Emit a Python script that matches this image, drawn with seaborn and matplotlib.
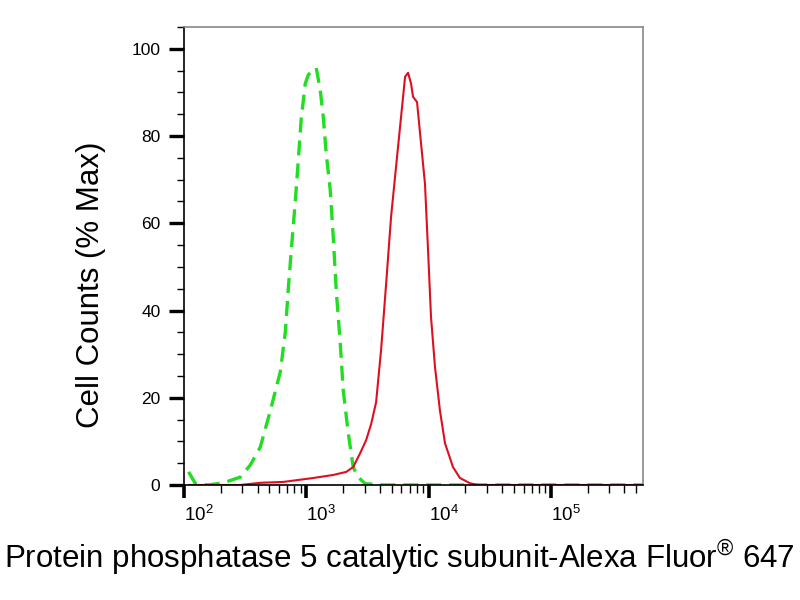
import numpy as np
import pandas as pd
import matplotlib
matplotlib.use('Agg')
import matplotlib.pyplot as plt
from matplotlib.ticker import LogLocator, MultipleLocator
import seaborn as sns

# control (isotype) histogram, % of max
ctrl_x = [109, 124, 158, 210, 289, 349, 421, 508, 614, 674, 713, 755, 813, 861, 910,
          981, 1038, 1119, 1207, 1301, 1377, 1456, 1570, 1661, 1758, 1896, 2005, 2203,
          2420, 2657, 3033, 4254, 574000]
ctrl_y = [3.0, 0.3, 0.0, 0.5, 1.8, 4.6, 8.7, 17, 26, 35, 45, 54, 65, 74.5, 84,
          92, 94, 95, 95.6, 90.6, 84.4, 76, 67.7, 57, 44.7, 32.6, 21.8, 12,
          4.1, 1.8, 0.3, 0.0, 0.0]

# stained sample histogram
samp_x = [109, 289, 421, 649, 1140, 1661, 2123, 2420, 2761, 3090, 3396, 3727, 4094,
          4497, 4940, 5427, 5962, 6431, 6805, 7196, 7471, 8054, 8522, 9357, 9903,
          10480, 11300, 12410, 13630, 15850, 18080, 21820, 25350, 574000]
samp_y = [0.0, 0.0, 0.5, 0.7, 1.6, 2.3, 3.0, 4.1, 7.3, 10.3, 14, 19, 31,
          46, 61.5, 73, 84.4, 93.6, 94.5, 92, 89, 87.8, 80.7, 69, 54,
          38.5, 27, 17, 9.6, 4.1, 1.6, 0.4, 0.0, 0.0]

x_ticks = [1e2, 1e3, 1e4, 1e5]
x_ticklabels = ['$10^{2}$', '$10^{3}$', '$10^{4}$', '$10^{5}$']

ctrl = pd.DataFrame({'intensity': ctrl_x, 'pct': ctrl_y})
samp = pd.DataFrame({'intensity': samp_x, 'pct': samp_y})

sns.set_style('ticks')
plt.rcParams['font.family'] = ['Liberation Sans', 'DejaVu Sans']
plt.rcParams['mathtext.fontset'] = 'custom'
plt.rcParams['mathtext.rm'] = 'Liberation Sans'
plt.rcParams['mathtext.it'] = 'Liberation Sans'
plt.rcParams['text.color'] = 'black'
plt.rcParams['axes.labelcolor'] = 'black'
plt.rcParams['xtick.color'] = 'black'
plt.rcParams['ytick.color'] = 'black'

fig = plt.figure(figsize=(8, 6), dpi=100)
ax = fig.add_axes([0.23, 0.1917, 0.574, 0.7633])

sns.lineplot(data=ctrl, x='intensity', y='pct', ax=ax, color='#22dd22',
             linewidth=2.4, linestyle=(0, (4.5, 2.4)), sort=False)
sns.lineplot(data=samp, x='intensity', y='pct', ax=ax, color='#dc1020',
             linewidth=1.5, sort=False)

ax.set_xscale('log')
ax.set_xlim(100, 5.7e5)
ax.set_ylim(0, 105)

ax.set_xticks(x_ticks)
ax.set_xticklabels(x_ticklabels, ha='left')
ax.xaxis.set_minor_locator(LogLocator(base=10, subs=np.arange(2, 10), numticks=20))
ax.yaxis.set_major_locator(MultipleLocator(20))
ax.yaxis.set_minor_locator(MultipleLocator(5))

ax.tick_params(axis='y', which='major', length=11, width=2.4, labelsize=12.5, pad=6)
ax.tick_params(axis='y', which='minor', length=5, width=1)
ax.tick_params(axis='x', which='major', length=9, width=2.6, labelsize=13.5, pad=5)
ax.tick_params(axis='x', which='minor', length=6, width=1)

for side in ['top', 'right']:
    ax.spines[side].set_visible(True)
    ax.spines[side].set_color('#888888')
    ax.spines[side].set_linewidth(1.2)
for side in ['left', 'bottom']:
    ax.spines[side].set_color('black')
    ax.spines[side].set_linewidth(1.2)

ax.set_ylabel('Cell Counts (% Max)', fontsize=22.5)
ax.yaxis.set_label_coords(-0.17, 0.437)
ax.set_xlabel('Protein phosphatase 5 catalytic subunit-Alexa Fluor$^{®}$ 647', fontsize=22.5)
ax.xaxis.set_label_coords(0.47, -0.115)

fig.savefig('out.png', dpi=100)
